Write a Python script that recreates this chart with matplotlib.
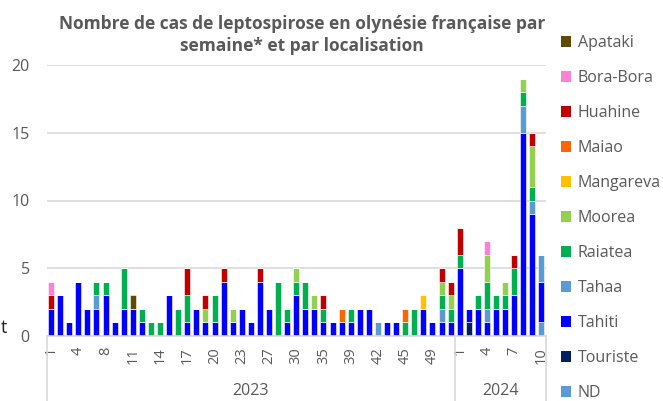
import numpy as np
import matplotlib
matplotlib.use('Agg')
from matplotlib import pyplot as plt
from matplotlib.patches import Patch
from matplotlib import transforms

plt.rcParams['font.family'] = ['Open Sans', 'DejaVu Sans']

# semaines (seules les semaines avec cas sont presentes)
weeks_2023 = [1, 2, 3, 4, 5, 6, 8, 9, 10, 11, 12, 13, 14, 15, 16, 17, 18, 19, 20, 21,
              22, 23, 24, 25, 27, 28, 29, 30, 31, 32, 35, 36, 37, 39, 40, 41, 42, 43,
              44, 45, 46, 47, 49, 50, 51]
weeks_2024 = [1, 2, 3, 4, 5, 6, 7, 8, 9, 10]

# cas par localisation, une valeur par semaine (2023 puis 2024)
nd        = [0]*54 + [1]
touriste  = [0]*46 + [1] + [0]*8
tahiti    = [2, 3, 1, 4, 2, 2, 3, 1, 2, 2, 1, 0, 0, 3, 0, 1, 2, 1, 1, 4,
             1, 2, 1, 4, 2, 0, 1, 3, 2, 2, 1, 1, 1, 1, 2, 2, 0, 1, 1, 0,
             0, 2, 1, 1, 1, 5, 1, 2, 1, 2, 2, 3, 15, 9, 3]
tahaa     = [0, 0, 0, 0, 0, 1, 0, 0, 0, 0, 0, 0, 0, 0, 0, 0, 0, 0, 0, 0,
             0, 0, 0, 0, 0, 0, 0, 0, 0, 0, 0, 0, 0, 0, 0, 0, 1, 0, 0, 0,
             0, 0, 0, 1, 0, 0, 0, 0, 1, 0, 0, 0, 2, 1, 2]
raiatea   = [0, 0, 0, 0, 0, 1, 1, 0, 3, 0, 1, 1, 1, 0, 2, 2, 0, 0, 2, 0,
             0, 0, 0, 0, 0, 4, 1, 1, 2, 0, 1, 0, 0, 1, 0, 0, 0, 0, 0, 1,
             2, 0, 0, 1, 1, 1, 0, 1, 2, 1, 1, 2, 1, 1, 0]
moorea    = [0, 0, 0, 0, 0, 0, 0, 0, 0, 0, 0, 0, 0, 0, 0, 0, 0, 1, 0, 0,
             1, 0, 0, 0, 0, 0, 0, 1, 0, 1, 0, 0, 0, 0, 0, 0, 0, 0, 0, 0,
             0, 0, 0, 1, 1, 0, 0, 0, 2, 0, 1, 0, 1, 3, 0]
mangareva = [0]*41 + [1] + [0]*13
maiao     = [0]*32 + [1] + [0]*6 + [1] + [0]*15
huahine   = [1, 0, 0, 0, 0, 0, 0, 0, 0, 0, 0, 0, 0, 0, 0, 2, 0, 1, 0, 1,
             0, 0, 0, 1, 0, 0, 0, 0, 0, 0, 1, 0, 0, 0, 0, 0, 0, 0, 0, 0,
             0, 0, 0, 1, 1, 2, 0, 0, 0, 0, 0, 1, 0, 1, 0]
bora_bora = [1] + [0]*47 + [1] + [0]*6
apataki   = [0]*9 + [1] + [0]*45

# ordre d'empilement, du bas vers le haut
series = [
    ('ND', nd, '#5B9BD5'),
    ('Touriste', touriste, '#002060'),
    ('Tahiti', tahiti, '#0000FF'),
    ('Tahaa', tahaa, '#5B9BD5'),
    ('Raiatea', raiatea, '#00B050'),
    ('Moorea', moorea, '#92D050'),
    ('Mangareva', mangareva, '#FFC000'),
    ('Maiao', maiao, '#FF6600'),
    ('Huahine', huahine, '#C00000'),
    ('Bora-Bora', bora_bora, '#FF80D5'),
    ('Apataki', apataki, '#604A00'),
]

W, H = 663, 401
fig = plt.figure(figsize=(W/100, H/100), dpi=100)
ax = fig.add_axes([46.5/W, 1-336/H, (546-46.5)/W, (336-65)/H])

labels = [str(w) for w in weeks_2023] + [str(w) for w in weeks_2024]
x = np.arange(len(labels))
bottom = np.zeros(len(labels))
handles = []
for name, vals, col in series:
    vals = np.array(vals, dtype=float)
    ax.bar(x, vals, width=0.66, bottom=bottom, color=col, edgecolor='white', linewidth=0.4)
    bottom += vals
    handles.append(Patch(facecolor=col, label=name))

grey = '#595959'
ax.set_xlim(-0.5, len(labels) - 0.5)
ax.set_ylim(0, 20)
ax.set_yticks([0, 5, 10, 15, 20])
ax.yaxis.grid(True, color='#D9D9D9', linewidth=1.2)
ax.set_axisbelow(True)
for s in ['top', 'right', 'left']:
    ax.spines[s].set_visible(False)
ax.spines['bottom'].set_color('#D9D9D9')
ax.spines['bottom'].set_linewidth(1.2)
ax.tick_params(axis='y', length=0, pad=12, labelsize=11.5, labelcolor=grey)
ax.set_xticks(x[::3])
ax.set_xticklabels(labels[::3], rotation=90, fontsize=10.5, color=grey)
ax.tick_params(axis='x', length=0, pad=8)

# second niveau de l'axe : annees
tr = transforms.blended_transform_factory(ax.transData, fig.transFigure)
n23 = len(weeks_2023)
for xv in [-0.5, n23 - 0.5, len(labels) - 0.5]:
    ax.plot([xv, xv], [1-336/H, 0], color='#D9D9D9', lw=1.2, transform=tr, clip_on=False)
ax.text((n23 - 1) / 2, 1-391/H, '2023', transform=tr, ha='center', va='center',
        fontsize=11.5, color=grey)
ax.text(n23 + (len(weeks_2024) - 1) / 2, 1-391/H, '2024', transform=tr, ha='center',
        va='center', fontsize=11.5, color=grey)

fig.text(302/W, 1-35/H, 'Nombre de cas de leptospirose en olynésie française par\nsemaine* et par localisation',
         ha='center', va='center', fontsize=12.5, fontweight='bold', color=grey, linespacing=1.3)

fig.text(1/W, 1-328/H, 't', ha='left', va='center', fontsize=13, color='#222222')

fig.legend(handles=handles[::-1], loc='upper left', bbox_to_anchor=(561/W, 1-35/H),
           frameon=False, fontsize=11.5, labelcolor=grey, handlelength=0.65, handleheight=0.65,
           handletextpad=0.4, labelspacing=1.19, borderaxespad=0, borderpad=0)

fig.savefig('out.png', dpi=100)
